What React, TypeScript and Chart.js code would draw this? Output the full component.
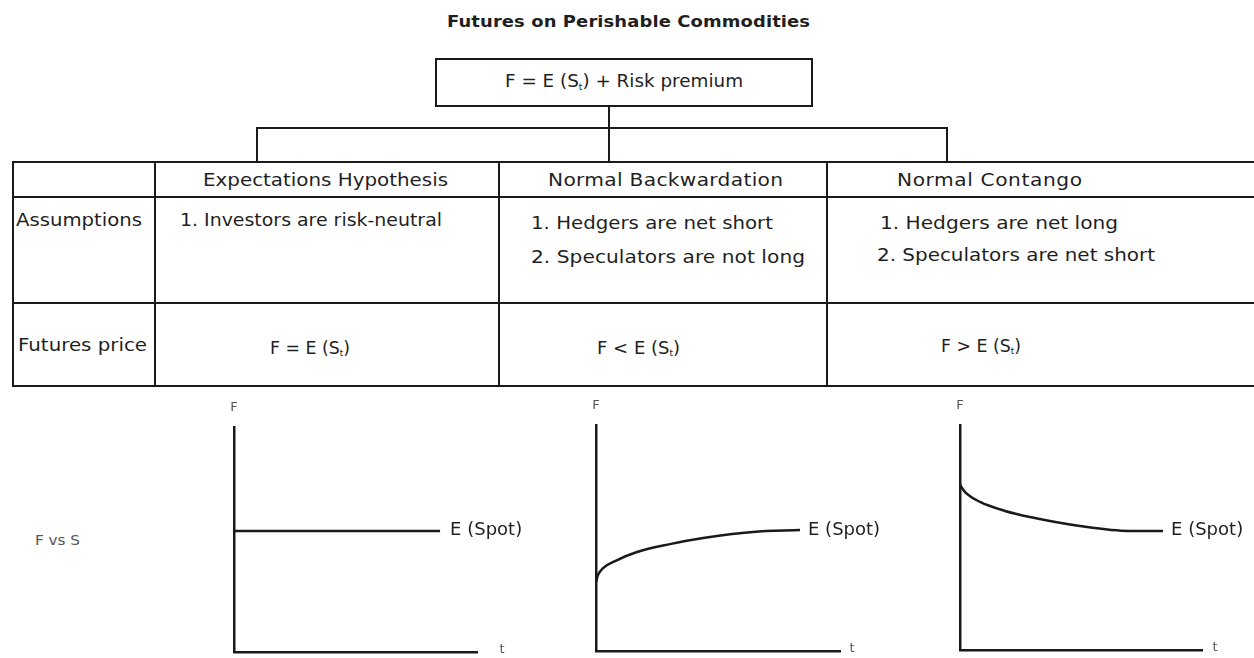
import React, { useEffect, useLayoutEffect, useRef } from "react";
import { Chart, registerables } from "chart.js";

Chart.register(...registerables);

// ---------- data ----------
const titleText = "Futures on Perishable Commodities";
const formulaText = "Risk premium";
const headers = ["Expectations Hypothesis", "Normal Backwardation", "Normal Contango"];
const rowLabels = ["Assumptions", "Futures price"];
const assumptionsEH = ["1. Investors are risk-neutral"];
const assumptionsNB = ["1. Hedgers are net short", "2. Speculators are not long"];
const assumptionsNC = ["1. Hedgers are net long", "2. Speculators are net short"];
const priceRelations = ["=", "<", ">"];
const sideLabel = "F vs S";
const curveLabel = "E (Spot)";
const yAxisLabel = "F";
const xAxisLabel = "t";

// curves (t from 0..100, F from 0..100)
const timeExpect = [0, 84.8];
const fExpect = [53.8, 53.8];
const timeBack = [0, 0.8, 2.9, 7.8, 16.8, 30.3, 43.9, 64.3, 83.6];
const fBack = [30.5, 33.6, 36.7, 39.8, 43.8, 47.3, 50.0, 52.7, 53.5];
const timeCont = [0, 2.1, 8.3, 18.6, 28.9, 49.6, 70.2, 83.9];
const fCont = [73.3, 70.2, 65.8, 61.8, 59.1, 55.1, 52.9, 52.9];

// ---------- styles ----------
const FONT = '"DejaVu Sans", sans-serif';
const INK = "#1f1f1f";
const LINE = "#1a1a1a";

type TxtProps = {
  x: number;
  y: number;
  w: number;
  size?: number;
  bold?: boolean;
  color?: string;
  children: React.ReactNode;
};

// text stretched (mostly horizontally, a little by spacing) so its ink spans width w
function Txt({ x, y, w, size = 18, bold = false, color = INK, children }: TxtProps) {
  const ref = useRef<HTMLSpanElement | null>(null);
  useLayoutEffect(() => {
    const el = ref.current;
    if (!el) return;
    el.style.letterSpacing = "0px";
    el.style.transform = "none";
    const natural = el.getBoundingClientRect().width;
    const n = (el.textContent || "").length;
    if (natural <= 0 || n < 2) return;
    const s = Math.max(0.9, Math.min(w / natural, 1.12));
    const remaining = w - natural * s;
    const ls = remaining / (n - 1) / s;
    el.style.letterSpacing = `${ls}px`;
    el.style.transform = `scaleX(${s})`;
  }, [w]);
  return (
    <div
      style={{
        position: "absolute",
        left: x,
        top: y,
        transform: "translateY(-50%)",
        fontFamily: FONT,
        fontSize: size,
        fontWeight: bold ? 700 : 400,
        color,
        whiteSpace: "nowrap",
        lineHeight: 1,
      }}
    >
      <span ref={ref} style={{ display: "inline-block", transformOrigin: "0 50%" }}>
        {children}
      </span>
    </div>
  );
}

function HLine({ x1, x2, y, w = 2 }: { x1: number; x2: number; y: number; w?: number }) {
  return <div style={{ position: "absolute", left: x1, top: y - w / 2, width: x2 - x1, height: w, background: LINE }} />;
}
function VLine({ x, y1, y2, w = 2 }: { x: number; y1: number; y2: number; w?: number }) {
  return <div style={{ position: "absolute", left: x - w / 2, top: y1, width: w, height: y2 - y1, background: LINE }} />;
}

function St() {
  return (
    <span>
      (S<sub style={{ fontSize: "0.5em", verticalAlign: "-0.25em" }}>t</sub>)
    </span>
  );
}

type MiniProps = {
  xs: number[];
  ys: number[];
  left: number;
  top: number;
  width: number;
  height: number;
  pad: { left: number; right: number; top: number; bottom: number };
  tGap: number;
  labelGap: number;
};

function MiniChart({ xs, ys, left, top, width, height, pad, tGap, labelGap }: MiniProps) {
  const ref = useRef<HTMLCanvasElement | null>(null);
  useEffect(() => {
    if (!ref.current) return;
    const labelsPlugin = {
      id: "axisLabels",
      afterDraw(chart: any) {
        const { ctx, chartArea, scales } = chart;
        const n = xs.length - 1;
        const px = scales.x.getPixelForValue(xs[n]);
        const py = scales.y.getPixelForValue(ys[n]);
        ctx.save();
        ctx.fillStyle = INK;
        ctx.font = `17px ${FONT}`;
        ctx.textBaseline = "middle";
        ctx.textAlign = "left";
        ctx.translate(px + labelGap, py);
        ctx.scale(1.06, 1);
        ctx.fillText(curveLabel, 0, 0);
        ctx.restore();
        ctx.save();
        ctx.fillStyle = "#555";
        ctx.font = `13px ${FONT}`;
        ctx.textBaseline = "middle";
        ctx.textAlign = "center";
        ctx.fillText(yAxisLabel, chartArea.left, chartArea.top - 19);
        ctx.fillText(xAxisLabel, chartArea.right + tGap, chartArea.bottom - 2);
        ctx.restore();
      },
    };
    const chart = new Chart(ref.current, {
      type: "line",
      data: {
        datasets: [
          {
            data: xs.map((x, i) => ({ x, y: ys[i] })),
            borderColor: LINE,
            borderWidth: 2.5,
            pointRadius: 0,
            fill: false,
            cubicInterpolationMode: "monotone",
          },
        ],
      },
      options: {
        animation: false,
        responsive: false,
        devicePixelRatio: 1,
        layout: { padding: pad },
        plugins: { legend: { display: false }, tooltip: { enabled: false }, title: { display: false } },
        events: [],
        scales: {
          x: {
            type: "linear",
            min: 0,
            max: 100,
            ticks: { display: false },
            grid: { display: false, drawTicks: false },
            border: { display: true, color: LINE, width: 2.5 },
          },
          y: {
            type: "linear",
            min: 0,
            max: 100,
            ticks: { display: false },
            grid: { display: false, drawTicks: false },
            border: { display: true, color: LINE, width: 2.5 },
          },
        },
      },
      plugins: [labelsPlugin],
    } as any);
    return () => chart.destroy();
  }, []);
  return (
    <canvas
      ref={ref}
      width={width}
      height={height}
      style={{ position: "absolute", left, top, width, height }}
    />
  );
}

export default function App() {
  return (
    <div style={{ position: "absolute", left: 0, top: 0, width: 1254, height: 658, background: "#fff", overflow: "hidden" }}>
      {/* title */}
      <Txt x={447} y={22} w={363} size={16} bold>
        {titleText}
      </Txt>

      {/* formula box */}
      <div style={{ position: "absolute", left: 435, top: 58, width: 378 - 4, height: 49 - 4, border: `2px solid ${LINE}` }} />
      <Txt x={505} y={82} w={238}>
        F = E <St /> + {formulaText}
      </Txt>

      {/* connectors */}
      <VLine x={609} y1={106} y2={162} />
      <HLine x1={256} x2={948} y={128} />
      <VLine x={257} y1={128} y2={162} />
      <VLine x={947} y1={128} y2={162} />

      {/* table grid */}
      <HLine x1={12} x2={1254} y={162} />
      <HLine x1={12} x2={1254} y={197} />
      <HLine x1={12} x2={1254} y={303} />
      <HLine x1={12} x2={1254} y={386} />
      <VLine x={13} y1={161} y2={387} />
      <VLine x={155} y1={161} y2={387} />
      <VLine x={499} y1={161} y2={387} />
      <VLine x={827} y1={161} y2={387} />

      {/* headers */}
      <Txt x={203} y={180} w={245}>{headers[0]}</Txt>
      <Txt x={548} y={180} w={235}>{headers[1]}</Txt>
      <Txt x={897} y={180} w={185}>{headers[2]}</Txt>

      {/* assumptions */}
      <Txt x={16} y={220} w={126}>{rowLabels[0]}</Txt>
      <Txt x={180} y={220} w={262}>{assumptionsEH[0]}</Txt>
      <Txt x={531} y={223} w={242}>{assumptionsNB[0]}</Txt>
      <Txt x={531} y={257} w={274}>{assumptionsNB[1]}</Txt>
      <Txt x={880} y={223} w={238}>{assumptionsNC[0]}</Txt>
      <Txt x={877} y={255} w={278}>{assumptionsNC[1]}</Txt>

      {/* futures price */}
      <Txt x={18} y={345} w={129}>{rowLabels[1]}</Txt>
      <Txt x={270} y={349} w={80} size={17}>F {priceRelations[0]} E <St /></Txt>
      <Txt x={597} y={349} w={83} size={17}>F {priceRelations[1]} E <St /></Txt>
      <Txt x={941} y={347} w={80} size={17}>F {priceRelations[2]} E <St /></Txt>

      {/* side label */}
      <Txt x={35} y={540} w={45} size={14} color="#555">{sideLabel}</Txt>

      {/* charts */}
      <MiniChart
        xs={timeExpect}
        ys={fExpect}
        left={214}
        top={395}
        width={330}
        height={263}
        pad={{ left: 20, top: 32, right: 67, bottom: 6 }}
        tGap={25}
        labelGap={10}
      />
      <MiniChart
        xs={timeBack}
        ys={fBack}
        left={576}
        top={395}
        width={330}
        height={263}
        pad={{ left: 20, top: 30, right: 66, bottom: 7 }}
        tGap={12}
        labelGap={8}
      />
      <MiniChart
        xs={timeCont}
        ys={fCont}
        left={940}
        top={395}
        width={314}
        height={263}
        pad={{ left: 20, top: 30, right: 52, bottom: 8 }}
        tGap={13}
        labelGap={8}
      />
    </div>
  );
}
